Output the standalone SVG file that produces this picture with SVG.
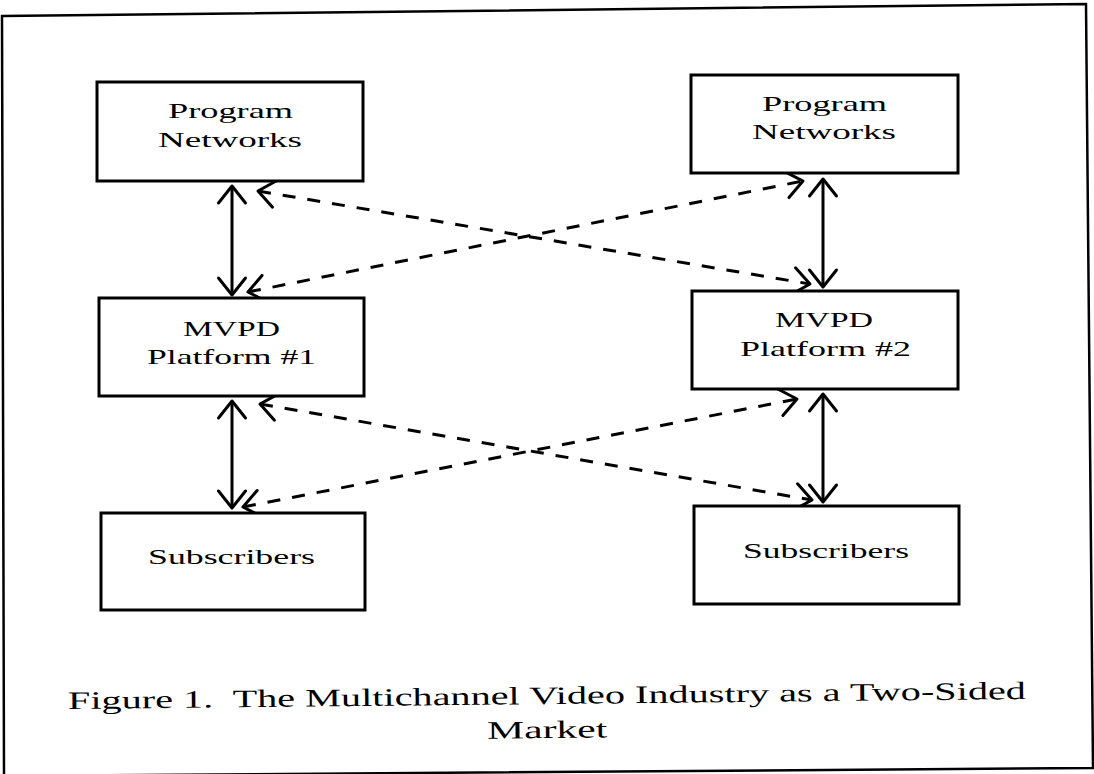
<svg xmlns="http://www.w3.org/2000/svg" width="1094" height="774" viewBox="0 0 1094 774">
<style>
.box{fill:#fff;stroke:#000;stroke-width:3}
.lbl{font-family:"Liberation Serif","Times New Roman",serif;font-size:21px;fill:#000;text-anchor:middle}
.cap{font-family:"Liberation Serif","Times New Roman",serif;font-size:25px;fill:#000;text-anchor:middle}
.solid{fill:none;stroke:#000;stroke-width:3;marker-start:url(#ah);marker-end:url(#ah)}
.dash{fill:none;stroke:#000;stroke-width:3;stroke-dasharray:13 12;marker-start:url(#ah);marker-end:url(#ah)}
.frame{fill:none;stroke:#000;stroke-width:2.5}
</style>
<defs>
<marker id="ah" markerUnits="userSpaceOnUse" orient="auto-start-reverse" refX="0" refY="0" markerWidth="40" markerHeight="40" viewBox="-25 -20 40 40" overflow="visible">
<path d="M-17,-13.5 L0,0 L-17,13.5" fill="none" stroke="#000" stroke-width="3" stroke-linejoin="round" stroke-linecap="round"/>
</marker>
</defs>
<rect width="1094" height="774" fill="#fff"/>
<polygon class="frame" points="2,16 1086,4 1093,768 4,776"/>
<g id="connectors">
<line class="solid" x1="232" y1="186" x2="232" y2="295"/>
<line class="solid" x1="823" y1="179" x2="823" y2="287"/>
<line class="solid" x1="232" y1="401" x2="232" y2="508"/>
<line class="solid" x1="823" y1="394" x2="823" y2="502"/>
<line class="dash" x1="258" y1="191" x2="810" y2="284"/>
<line class="dash" x1="248" y1="292" x2="803" y2="181"/>
<line class="dash" x1="260" y1="404" x2="812" y2="500"/>
<line class="dash" x1="243" y1="507" x2="797" y2="399"/>
</g>
<g id="program-networks-1">
<rect class="box" x="97" y="82" width="266" height="99"/>
<text class="lbl" x="230.5" y="118" textLength="125" lengthAdjust="spacingAndGlyphs">Program</text>
<text class="lbl" x="230" y="147" textLength="144" lengthAdjust="spacingAndGlyphs">Networks</text>
</g>
<g id="program-networks-2">
<rect class="box" x="691" y="75" width="267" height="98"/>
<text class="lbl" x="824.5" y="111" textLength="125" lengthAdjust="spacingAndGlyphs">Program</text>
<text class="lbl" x="824" y="139" textLength="144" lengthAdjust="spacingAndGlyphs">Networks</text>
</g>
<g id="mvpd-1">
<rect class="box" x="99" y="298" width="265" height="98"/>
<text class="lbl" x="231.5" y="336" textLength="97" lengthAdjust="spacingAndGlyphs">MVPD</text>
<text class="lbl" x="231.5" y="364" textLength="169" lengthAdjust="spacingAndGlyphs">Platform #1</text>
</g>
<g id="mvpd-2">
<rect class="box" x="692" y="291" width="266" height="98"/>
<text class="lbl" x="824" y="327" textLength="98" lengthAdjust="spacingAndGlyphs">MVPD</text>
<text class="lbl" x="825.5" y="356" textLength="171" lengthAdjust="spacingAndGlyphs">Platform #2</text>
</g>
<g id="subscribers-1">
<rect class="box" x="101" y="513" width="264" height="97"/>
<text class="lbl" x="231.5" y="564" textLength="167" lengthAdjust="spacingAndGlyphs">Subscribers</text>
</g>
<g id="subscribers-2">
<rect class="box" x="694" y="506" width="265" height="98"/>
<text class="lbl" x="826" y="558" textLength="166" lengthAdjust="spacingAndGlyphs">Subscribers</text>
</g>
<g id="caption" transform="rotate(-0.6 547 704)">
<text class="cap" x="547" y="704" textLength="958" lengthAdjust="spacingAndGlyphs" xml:space="preserve">Figure 1.  The Multichannel Video Industry as a Two-Sided</text>
<text class="cap" x="547" y="738" textLength="120" lengthAdjust="spacingAndGlyphs">Market</text>
</g>
</svg>
